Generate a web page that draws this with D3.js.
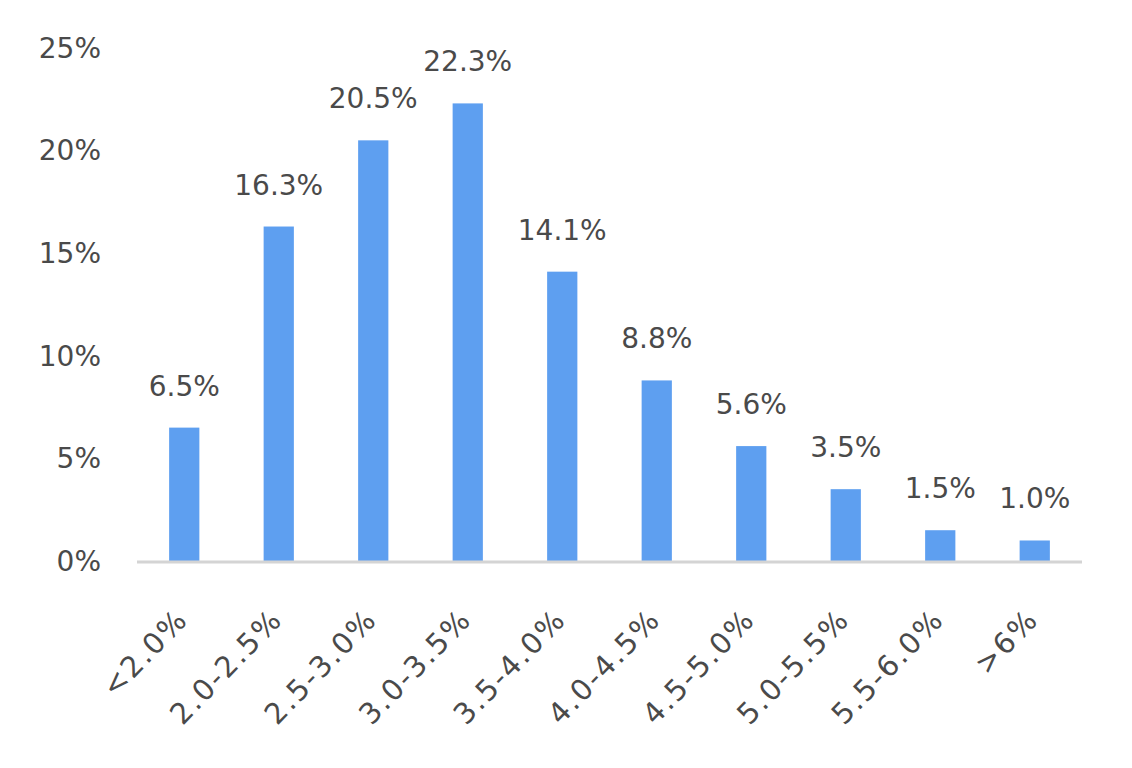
<!DOCTYPE html>
<html><head><meta charset="utf-8">
<script src="https://cdn.jsdelivr.net/npm/d3@7"></script>
<style>body{margin:0;background:#fff;}svg text{font-family:"DejaVu Sans",sans-serif;fill:#4a4a4a;}</style>
</head><body>
<svg id="c" width="1132" height="768"></svg>
<script>
const categories = ["<2.0%","2.0-2.5%","2.5-3.0%","3.0-3.5%","3.5-4.0%","4.0-4.5%","4.5-5.0%","5.0-5.5%","5.5-6.0%",">6%"];
const values = [6.5,16.3,20.5,22.3,14.1,8.8,5.6,3.5,1.5,1.0];
const yTicks = [0,5,10,15,20,25];

const svg = d3.select("#c");
const x = d3.scaleBand().domain(categories).range([137,1082]).paddingInner(0.68).paddingOuter(0.34);
const y = d3.scaleLinear().domain([0,25]).range([561,48]);
const fs = 28;

svg.append("g").selectAll("rect").data(values).join("rect")
  .attr("x",(d,i)=>x(categories[i])).attr("width",x.bandwidth())
  .attr("y",d=>y(d)).attr("height",d=>y(0)-y(d)).attr("fill","#5e9ff0");

svg.append("line").attr("x1",137).attr("x2",1082).attr("y1",y(0)+1).attr("y2",y(0)+1)
  .attr("stroke","#d4d4d4").attr("stroke-width",3);

svg.append("g").selectAll("text").data(yTicks).join("text")
  .attr("x",101).attr("y",d=>y(d)).attr("dy","0.35em").attr("text-anchor","end")
  .style("font-size",fs+"px").text(d=>d+"%");

svg.append("g").selectAll("text").data(values).join("text")
  .attr("x",(d,i)=>x(categories[i])+x.bandwidth()/2).attr("y",d=>y(d)-32)
  .attr("text-anchor","middle").style("font-size",fs+"px").text(d=>d.toFixed(1)+"%");

svg.append("g").selectAll("text").data(categories).join("text")
  .attr("transform",d=>`translate(${x(d)+x.bandwidth()/2-2},${614}) rotate(-46)`)
  .attr("text-anchor","end").attr("dy","0.35em").style("font-size","29px").style("letter-spacing","2px").text(d=>d);
</script>
</body></html>
